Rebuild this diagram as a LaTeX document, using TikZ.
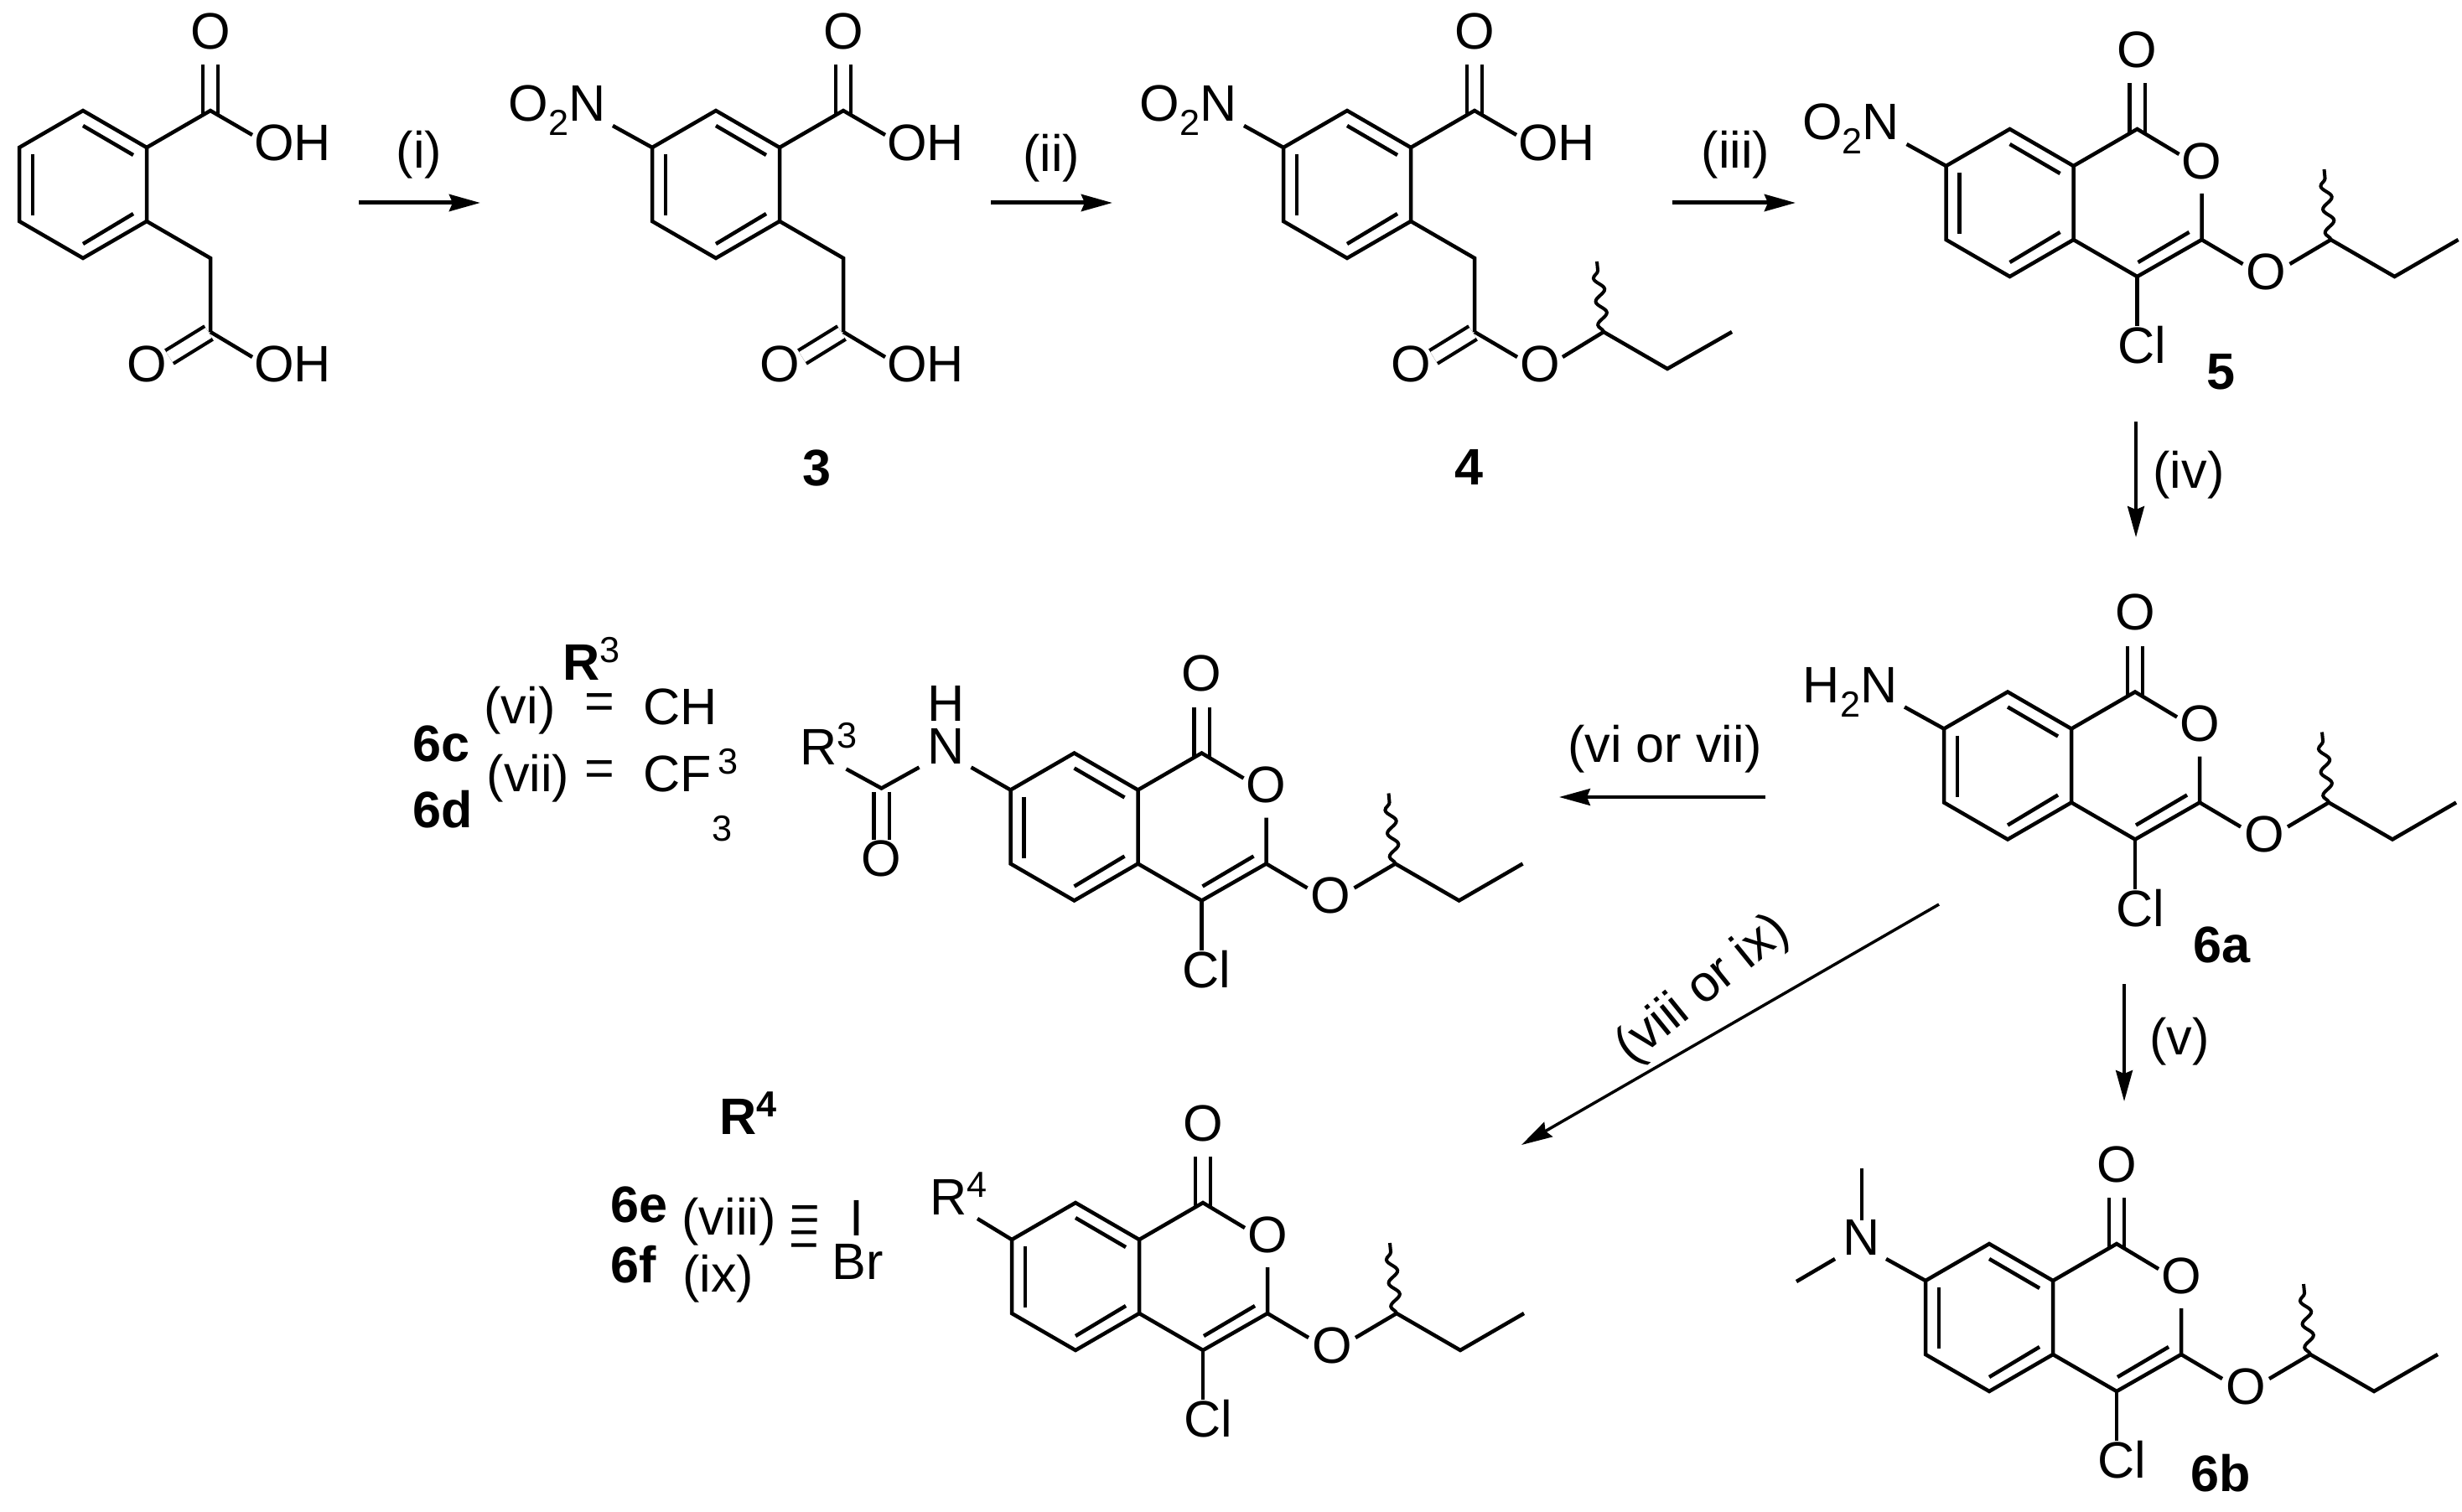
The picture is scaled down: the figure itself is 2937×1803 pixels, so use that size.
\documentclass[tikz,border=0pt]{standalone}
\usepackage{fontspec}
\setmainfont{Liberation Sans}
\usetikzlibrary{arrows.meta,decorations.pathmorphing}

\newcommand{\sbs}[1]{\raisebox{-0.27em}{\fontsize{12.3}{14}\selectfont #1}}
\newcommand{\sps}[1]{\raisebox{0.33em}{\fontsize{12.3}{14}\selectfont #1}}

\tikzset{
    bond/.style={line width=0.45mm},
    dbl/.style={line width=0.42mm,double,double distance=1.4mm},
    wavy/.style={
        line width=0.4mm,
        decorate,
        decoration={snake,segment length=2.8mm,amplitude=0.6mm},
    },
    rxn/.style={
        line width=0.35mm,
        -{Stealth[length=3.7mm,width=2mm,inset=0.4mm]},
    },
    rxntop/.style={rxn,line width=0.5mm},
    atom/.style={inner sep=0pt,font=\fontsize{17.4}{20}\selectfont},
    smalldigit/.style={inner sep=0pt,font=\fontsize{12.3}{14}\selectfont},
    boldlabel/.style={inner sep=0pt,font=\fontsize{17.4}{20}\selectfont\bfseries},
}

% six-membered ring, origin at its centre
\newcommand{\benzcore}{
    \coordinate (rt) at (0,-88);
    \coordinate (rur) at (76,-44);
    \coordinate (rlr) at (76,44);
    \coordinate (rb) at (0,88);
    \coordinate (rll) at (-76,44);
    \coordinate (rul) at (-76,-44);
    \draw[bond] (rt) -- (rur) -- (rlr) -- (rb) -- (rll) -- (rul) -- cycle;
    \draw[bond] (0,-70) -- (60,-35);
    \draw[bond] (0,71) -- (60,35);
    \draw[bond] (-60,-36) -- (-60,37);
}

% ring carrying the two side chains up to the upper carbonyl and CH2
\newcommand{\acidcore}{
    \coordinate (c1) at (152,-88);
    \coordinate (o1e) at (152,-143);
    \coordinate (c1a) at (152,-83);
    \coordinate (oh1e) at (202,-59);
    \coordinate (ch2) at (152,88);
    \coordinate (c2) at (152,176);
    \coordinate (c2a) at (150,177);
    \coordinate (o2e) at (103,206);
    \draw[dbl] (c1a) -- (o1e);
    \draw[dbl] (c2a) -- (o2e);
    \benzcore
    \draw[bond] (rur) -- (c1) -- (oh1e);
    \draw[bond] (rlr) -- (ch2) -- (c2);
    \node[atom] (o1) at (152,-183) {O};
    \node[atom] (oh1) at (250,-50) {OH};
    \node[atom] (o2) at (76,214) {O};
}

% fused lactone with chloride and the butoxy group
\newcommand{\lactonecore}{
    \coordinate (c1) at (152,-88);
    \coordinate (c1a) at (152,-83);
    \coordinate (o1e) at (152,-143);
    \coordinate (ore) at (202,-58);
    \coordinate (c3) at (229,44);
    \coordinate (orb) at (229,-11);
    \coordinate (c4) at (152,88);
    \coordinate (cle) at (152,147);
    \coordinate (oxa) at (278,73);
    \coordinate (oxb) at (334,73);
    \coordinate (ch) at (383,44);
    \coordinate (ch2) at (459,88);
    \coordinate (ch3) at (535,44);
    \coordinate (wv) at (375,-40);
    \draw[dbl] (c1a) -- (o1e);
    \benzcore
    \draw[bond] (rur) -- (c1) -- (ore);
    \draw[bond] (orb) -- (c3) -- (c4) -- (rlr);
    \draw[bond] (214,35) -- (153,71);
    \draw[bond] (c4) -- (cle);
    \draw[bond] (c3) -- (oxa);
    \draw[bond] (oxb) -- (ch) -- (ch2) -- (ch3);
    \draw[wavy] (ch) -- (wv);
    \node[atom] (o1) at (152,-183) {O};
    \node[atom] (oring) at (229,-50) {O};
    \node[atom] (ox) at (306,82) {O};
    \node[atom] (cl) at (158,170) {Cl};
}

% amine or nitro bond on the ring
\newcommand{\subst}[1]{
    \coordinate (ne) at (-123,-70);
    \draw[bond] (rul) -- (ne);
    \node[atom,anchor=base east] (sub) at (-131,-75) {#1};
}

\begin{document}
\begin{tikzpicture}[x=0.1mm,y=-0.1mm]
    \useasboundingbox (0,0) rectangle (2937,1803);

    \begin{scope}[shift={(99,220)},name prefix=ma-]
        \acidcore
        \coordinate (oh2e) at (202,206);
        \draw[bond] (c2) -- (oh2e);
        \node[atom] (oh2) at (250,214) {OH};
    \end{scope}

    \begin{scope}[shift={(854,220)},name prefix=mb-]
        \acidcore
        \coordinate (oh2e) at (202,206);
        \draw[bond] (c2) -- (oh2e);
        \node[atom] (oh2) at (250,214) {OH};
        \subst{O\sbs{2}N}
    \end{scope}

    \begin{scope}[shift={(1607,220)},name prefix=mc-]
        \acidcore
        \coordinate (oh2e) at (203,206);
        \coordinate (oxb) at (257,206);
        \coordinate (ch) at (306,176);
        \coordinate (ch2) at (382,220);
        \coordinate (ch3) at (459,176);
        \coordinate (wv) at (298,92);
        \draw[bond] (c2) -- (oh2e);
        \draw[bond] (oxb) -- (ch) -- (ch2) -- (ch3);
        \draw[wavy] (ch) -- (wv);
        \node[atom] (ox) at (230,214) {O};
        \subst{O\sbs{2}N}
    \end{scope}

    \begin{scope}[shift={(2397.5,242)},name prefix=md-]
        \lactonecore
        \subst{O\sbs{2}N}
    \end{scope}

    \begin{scope}[shift={(2395,913.5)},name prefix=me-]
        \lactonecore
        \subst{H\sbs{2}N}
    \end{scope}

    \begin{scope}[shift={(2373,1572)},name prefix=mf-]
        \lactonecore
        \coordinate (ne) at (-123,-70);
        \coordinate (nb) at (-184,-70);
        \coordinate (nc) at (-230,-43);
        \coordinate (nd) at (-152,-116);
        \coordinate (nf) at (-152,-178);
        \draw[bond] (rul) -- (ne);
        \draw[bond] (nb) -- (nc);
        \draw[bond] (nd) -- (nf);
        \node[atom] (n) at (-152,-96) {N};
    \end{scope}

    \begin{scope}[shift={(1281.5,986.5)},name prefix=mg-]
        \lactonecore
        \coordinate (ne) at (-123,-71);
        \coordinate (amc) at (-230,-46);
        \coordinate (amn) at (-185,-71);
        \coordinate (amr) at (-272,-69);
        \coordinate (amd) at (-230,-42);
        \coordinate (amo) at (-230,15);
        \draw[dbl] (amd) -- (amo);
        \draw[bond] (rul) -- (ne);
        \draw[bond] (amr) -- (amc) -- (amn);
        \node[atom] (n) at (-153,-96) {N};
        \node[atom] (h) at (-153,-147) {H};
        \node[atom] (o3) at (-230,38) {O};
        \node[atom,anchor=base west] (r) at (-328,-74) {R\sps{3}};
    \end{scope}

    \begin{scope}[shift={(1283,1523)},name prefix=mh-]
        \lactonecore
        \coordinate (ne) at (-117,-69);
        \draw[bond] (rul) -- (ne);
        \node[atom,anchor=base west] (r) at (-174,-74) {R\sps{4}};
    \end{scope}

    \coordinate (ia) at (428,242);
    \coordinate (ib) at (573,242);
    \coordinate (iia) at (1182,242);
    \coordinate (iib) at (1327,242);
    \coordinate (iiia) at (1995,242);
    \coordinate (iiib) at (2142,242);
    \coordinate (iva) at (2548,503);
    \coordinate (ivb) at (2548,641);
    \coordinate (va) at (2534,1174);
    \coordinate (vb) at (2534,1314);
    \coordinate (via) at (2106,951);
    \coordinate (vib) at (1860,951);
    \coordinate (viiia) at (2313,1079);
    \coordinate (viiib) at (1815,1366);
    \draw[rxntop] (ia) -- (ib);
    \draw[rxntop] (iia) -- (iib);
    \draw[rxntop] (iiia) -- (iiib);
    \draw[rxn] (iva) -- (ivb);
    \draw[rxn] (va) -- (vb);
    \draw[rxn] (via) -- (vib);
    \draw[rxn] (viiia) -- (viiib);

    \node[atom] (li) at (500,185) {(i)};
    \node[atom] (lii) at (1254,189) {(ii)};
    \node[atom] (liii) at (2070.5,185) {(iii)};
    \node[atom] (liv) at (2611,567) {(iv)};
    \node[atom] (lv) at (2600,1243) {(v)};
    \node[atom] (lvi) at (1986,894) {(vi or vii)};
    \node[atom,rotate=39] (lviii) at (2032,1181) {(viii or ix)};

    \node[boldlabel] (n3) at (974,558) {3};
    \node[boldlabel] (n4) at (1752,557) {4};
    \node[boldlabel] (n5) at (2649.5,444) {5};
    \node[boldlabel] (n6a) at (2650,1127) {6a};
    \node[boldlabel] (n6b) at (2649,1758) {6b};

    \node[boldlabel,anchor=base west] (rc) at (671,811) {R\sps{\mdseries 3}};
    \node[boldlabel,anchor=base west] (n6c) at (491.5,908) {6c};
    \node[boldlabel,anchor=base west] (n6d) at (491.5,987) {6d};
    \node[atom] (lc1) at (620,848) {(vi)};
    \node[atom] (lc2) at (630,929) {(vii)};
    \node[atom] (eqa) at (715,842.5) {=};
    \node[atom] (eqb) at (715,923) {=};
    \node[atom,anchor=base west] (cha) at (767,864) {CH};
    \node[atom,anchor=base west] (cfa) at (767,944) {CF};
    \node[smalldigit] (cfb) at (869,908.5) {3};
    \node[smalldigit] (cfc) at (862,989) {3};

    \node[boldlabel,anchor=base west] (rd) at (858,1353) {R\sps{4}};
    \node[boldlabel,anchor=base west] (n6e) at (727.5,1458) {6e};
    \node[boldlabel,anchor=base west] (n6f) at (727.5,1530.5) {6f};
    \node[atom] (ld1) at (869.5,1458) {(viii)};
    \node[atom] (ld2) at (856.5,1526) {(ix)};
    \node[atom] (eqc) at (960.7,1453) {=};
    \node[atom] (eqd) at (959.7,1483.3) {=};
    \node[atom,anchor=base] (ia1) at (1021.7,1474) {I};
    \node[atom,anchor=base west] (br) at (992,1526.7) {Br};
\end{tikzpicture}
\end{document}
